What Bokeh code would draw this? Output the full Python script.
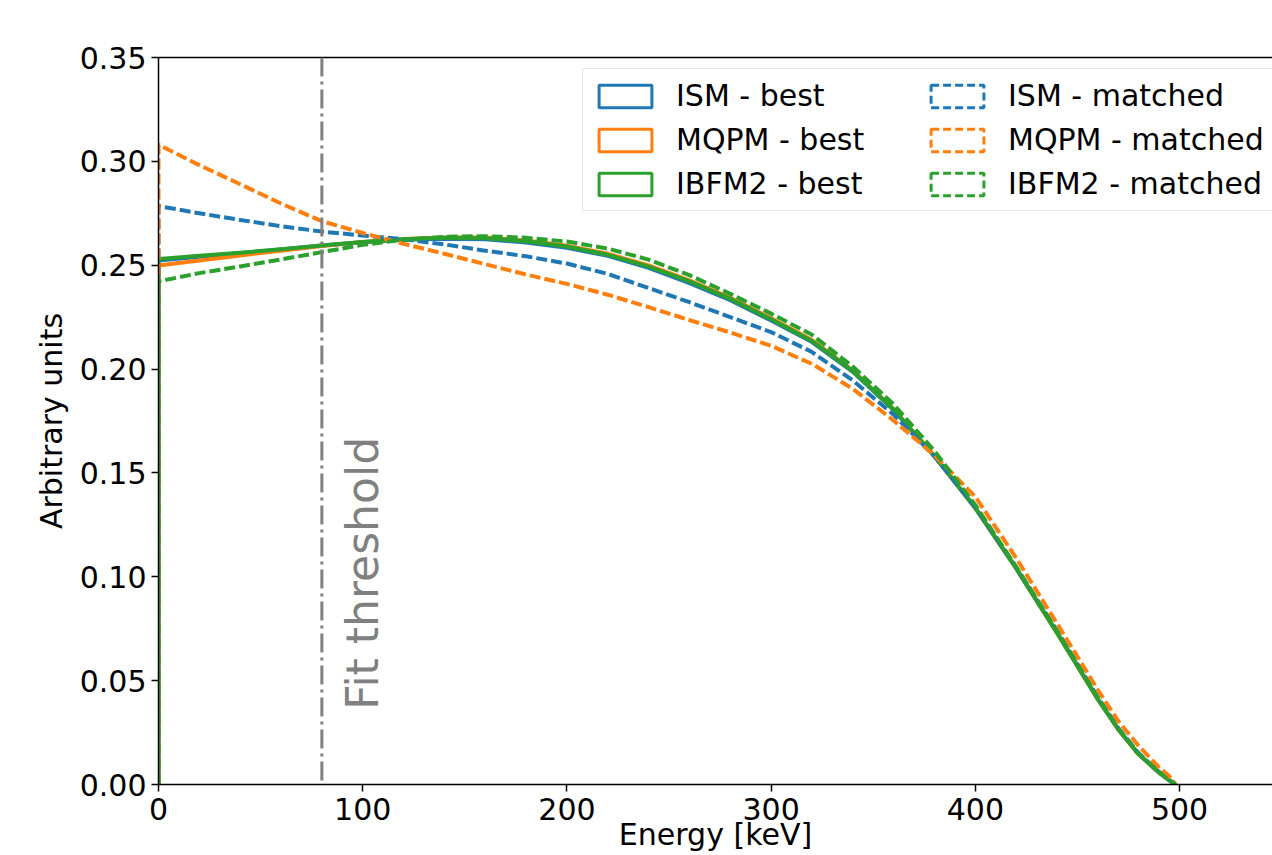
import math
from bokeh.plotting import figure
from bokeh.models import (Range1d, FixedTicker, PrintfTickFormatter, LinearAxis,
                          Label, Legend, LegendItem, ColumnDataSource, Span)
from bokeh.embed import file_html
from bokeh.resources import INLINE

# ---- data ----
energy = [0, 20, 40, 60, 80, 100, 120, 140, 160, 180, 200, 220, 240, 260, 280,
          300, 320, 340, 360, 380, 400, 420, 440, 450, 460, 470, 480, 490, 495, 498]

ism_best = [0.2523, 0.2541, 0.2558, 0.2576, 0.2595, 0.2610, 0.2622, 0.2628, 0.2625, 0.2609,
            0.2584, 0.2545, 0.2487, 0.2414, 0.2332, 0.2234, 0.2130, 0.1987, 0.1803, 0.1580,
            0.1332, 0.1042, 0.0732, 0.0572, 0.0412, 0.0266, 0.0146, 0.0058, 0.0020, 0.0]
mqpm_best = [0.2499, 0.2523, 0.2547, 0.2570, 0.2593, 0.2612, 0.2626, 0.2634, 0.2633, 0.2619,
             0.2594, 0.2555, 0.2499, 0.2427, 0.2343, 0.2245, 0.2140, 0.1993, 0.1806, 0.1580,
             0.1330, 0.1040, 0.0730, 0.0570, 0.0410, 0.0265, 0.0145, 0.0057, 0.0020, 0.0]
ibfm2_best = [0.2530, 0.2545, 0.2560, 0.2577, 0.2595, 0.2612, 0.2625, 0.2632, 0.2630, 0.2615,
              0.2590, 0.2550, 0.2493, 0.2422, 0.2338, 0.2240, 0.2135, 0.1990, 0.1805, 0.1580,
              0.1330, 0.1040, 0.0730, 0.0570, 0.0410, 0.0265, 0.0145, 0.0057, 0.0020, 0.0]

ism_matched = [0.2785, 0.2750, 0.2718, 0.2688, 0.2662, 0.2643, 0.2625, 0.2600, 0.2570, 0.2543,
               0.2508, 0.2458, 0.2390, 0.2322, 0.2250, 0.2178, 0.2082, 0.1945, 0.1780, 0.1580,
               0.1335, 0.1045, 0.0740, 0.0580, 0.0420, 0.0272, 0.0150, 0.0060, 0.0021, 0.0]
mqpm_matched = [0.3080, 0.2982, 0.2890, 0.2797, 0.2712, 0.2655, 0.2603, 0.2555, 0.2505, 0.2455,
                0.2410, 0.2358, 0.2298, 0.2236, 0.2176, 0.2112, 0.2025, 0.1905, 0.1752, 0.1585,
                0.1385, 0.1090, 0.0775, 0.0615, 0.0455, 0.0305, 0.0185, 0.0082, 0.0040, 0.0]
ibfm2_matched = [0.2422, 0.2462, 0.2494, 0.2528, 0.2563, 0.2598, 0.2623, 0.2637, 0.2640, 0.2632,
                 0.2614, 0.2580, 0.2527, 0.2452, 0.2362, 0.2267, 0.2165, 0.2012, 0.1830, 0.1605,
                 0.1345, 0.1048, 0.0737, 0.0577, 0.0416, 0.0268, 0.0147, 0.0058, 0.0020, 0.0]

fit_threshold = 80
x_ticks = [0, 100, 200, 300, 400, 500]
y_ticks = [0.0, 0.05, 0.10, 0.15, 0.20, 0.25, 0.30, 0.35]

series_labels = ["ISM - best", "MQPM - best", "IBFM2 - best",
                 "ISM - matched", "MQPM - matched", "IBFM2 - matched"]
series_values = [ism_best, mqpm_best, ibfm2_best, ism_matched, mqpm_matched, ibfm2_matched]
series_colors = ["#1f77b4", "#ff7f0e", "#2ca02c", "#1f77b4", "#ff7f0e", "#2ca02c"]
series_dashed = [False, False, False, True, True, True]

FONT = "DejaVu Sans"

p = figure(width=1272, height=855, output_backend="svg", toolbar_location=None,
           x_range=Range1d(0, 545.5), y_range=Range1d(0, 0.35),
           min_border_left=158, min_border_right=0, min_border_top=57, min_border_bottom=71)
p.xgrid.visible = False
p.ygrid.visible = False
p.outline_line_color = None
p.background_fill_color = "white"
p.border_fill_color = "white"

for ax in (p.xaxis[0], p.yaxis[0]):
    ax.axis_line_width = 1.5
    ax.axis_line_color = "black"
    ax.major_tick_line_width = 1.5
    ax.major_tick_line_color = "black"
    ax.major_tick_out = 7
    ax.major_tick_in = 0
    ax.minor_tick_line_color = None
    ax.major_label_text_font = FONT
    ax.major_label_text_font_size = "30px"
    ax.major_label_text_color = "black"
    ax.axis_label_text_font = FONT
    ax.axis_label_text_font_size = "30px"
    ax.axis_label_text_font_style = "normal"
    ax.axis_label_text_color = "black"

p.xaxis.ticker = FixedTicker(ticks=x_ticks)
p.yaxis.ticker = FixedTicker(ticks=y_ticks)
p.yaxis.formatter = PrintfTickFormatter(format="%.2f")
p.xaxis.major_label_standoff = 6
p.yaxis.major_label_standoff = 5
p.yaxis.axis_label = "Arbitrary units"
p.yaxis.axis_label_standoff = 8
p.xaxis.axis_label = "Energy [keV]"
p.xaxis.axis_label_standoff = -6

top = LinearAxis(ticker=FixedTicker(ticks=[]), axis_line_width=1.5, axis_line_color="black",
                 major_tick_line_color=None, minor_tick_line_color=None,
                 major_label_text_font_size="0px")
p.add_layout(top, "above")

# threshold
p.add_layout(Span(location=fit_threshold, dimension="height", line_color="gray",
                  line_width=3, line_dash="19 5 3 5"))
p.add_layout(Label(x=99.9, y=0.036, text="Fit threshold", angle=math.pi / 2,
                   text_align="left", text_baseline="alphabetic", text_color="gray",
                   text_font=FONT, text_font_size="44px"))

# curves
for vals, col, dashed in zip(series_values, series_colors, series_dashed):
    xs = [0] + energy
    ys = [0.0] + vals
    p.line(xs, ys, line_color=col, line_width=4, line_join="round",
           line_dash="11 4" if dashed else "solid")

# legend swatches (step-histogram style rectangles, no visible data)
nan = float("nan")
items = []
for lab, col, dashed in zip(series_labels, series_colors, series_dashed):
    src = ColumnDataSource(dict(l=[nan], r=[nan], t=[nan], b=[nan]))
    r = p.quad(left="l", right="r", top="t", bottom="b", source=src, fill_color=None,
               line_color=col, line_width=3, line_dash="8 4" if dashed else "solid")
    items.append(LegendItem(label=lab, renderers=[r]))

legend = Legend(items=items, location=(424, 573), ncols=2,
                glyph_width=66, glyph_height=28, label_standoff=18,
                label_text_font=FONT, label_text_font_size="30px", label_text_color="black",
                padding=9, spacing=9, margin=0, label_width=239,
                border_line_color="#cccccc", border_line_width=1.5,
                background_fill_color="white", background_fill_alpha=0.8)
p.add_layout(legend, "center")

open("out.html", "w").write(file_html(p, INLINE))
